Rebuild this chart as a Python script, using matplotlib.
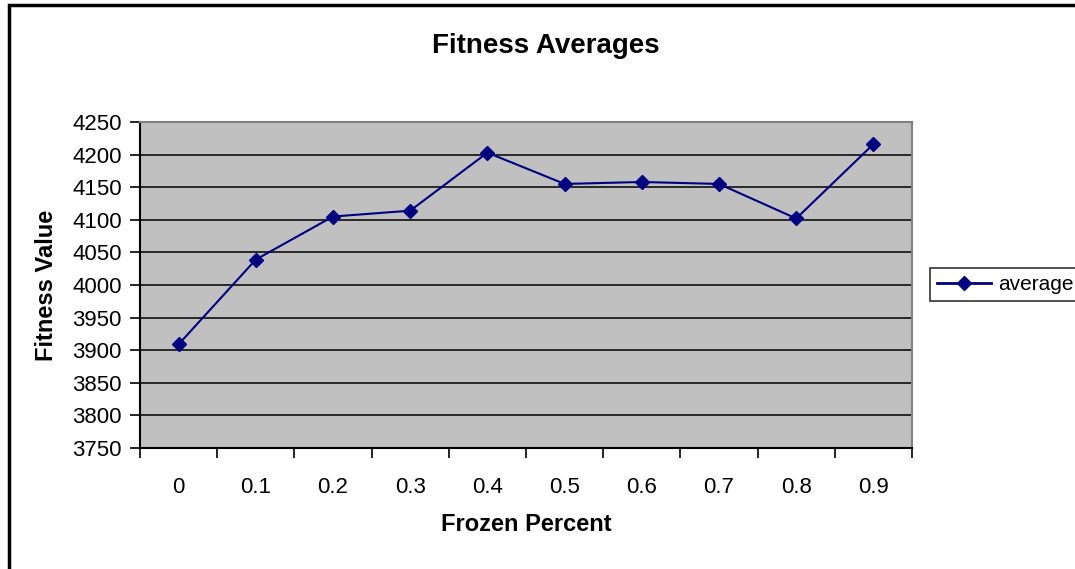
import matplotlib
matplotlib.use("Agg")
import matplotlib.pyplot as plt
from matplotlib.patches import Rectangle

plt.rcParams['font.family'] = ['Liberation Sans', 'DejaVu Sans']

frozen = ['0', '0.1', '0.2', '0.3', '0.4', '0.5', '0.6', '0.7', '0.8', '0.9']
average = [3909, 4039, 4105, 4114, 4203, 4155, 4158, 4155, 4102, 4216]
yticks = list(range(3750, 4251, 50))

fig = plt.figure(figsize=(10.75, 5.69), dpi=100)
ax = fig.add_axes([140 / 1075, 1 - 448 / 569, 772 / 1075, 326 / 569])

ax.set_facecolor('#c0c0c0')
xs = list(range(len(frozen)))
ax.plot(xs, average, color='#000080', lw=1.5, marker='D', markersize=7,
        label='average', zorder=3)

ax.set_xlim(-0.5, len(frozen) - 0.5)
ax.set_ylim(3750, 4250)
ax.set_yticks(yticks)
ax.set_yticklabels([str(v) for v in yticks], fontsize=16)
ax.set_xticks(xs)
ax.set_xticklabels(frozen, fontsize=16)
ax.tick_params(axis='x', which='major', length=0, pad=21)
ax.set_xticks([x - 0.5 for x in range(len(frozen) + 1)], minor=True)
ax.tick_params(axis='x', which='minor', length=7, width=1.2, direction='out')
ax.tick_params(axis='y', length=7, width=1.2, direction='out', pad=6)

for y in yticks[1:-1]:
    ax.axhline(y, color='black', lw=1.1, zorder=1)

for side in ['top', 'right']:
    ax.spines[side].set_color('#808080')
    ax.spines[side].set_linewidth(1.5)
for side in ['left', 'bottom']:
    ax.spines[side].set_color('black')
    ax.spines[side].set_linewidth(1.5)

ax.set_xlabel('Frozen Percent', fontsize=17, fontweight='bold', labelpad=11)
ax.set_ylabel('Fitness Value', fontsize=17, fontweight='bold', labelpad=10)
fig.text(546 / 1075, 1 - 46 / 569, 'Fitness Averages', fontsize=20,
         fontweight='bold', ha='center', va='center')

leg = ax.legend(loc='center left', bbox_to_anchor=(930 / 1075, 1 - 284.5 / 569),
                bbox_transform=fig.transFigure, fontsize=15, frameon=True,
                fancybox=False, handlelength=2.6, handletextpad=0.3,
                borderpad=0.35, borderaxespad=0)
leg.get_frame().set_edgecolor('black')
leg.get_frame().set_linewidth(1.2)
for h in leg.get_lines():
    h.set_linewidth(2)

# outer chart border, running off the right and bottom edges
fig.patches.append(Rectangle((8.7 / 1075, -0.05), 1.1, 1 - 5 / 569 + 0.05,
                             transform=fig.transFigure, fill=False,
                             edgecolor='black', lw=2.5))

fig.savefig('out.png', dpi=100)
